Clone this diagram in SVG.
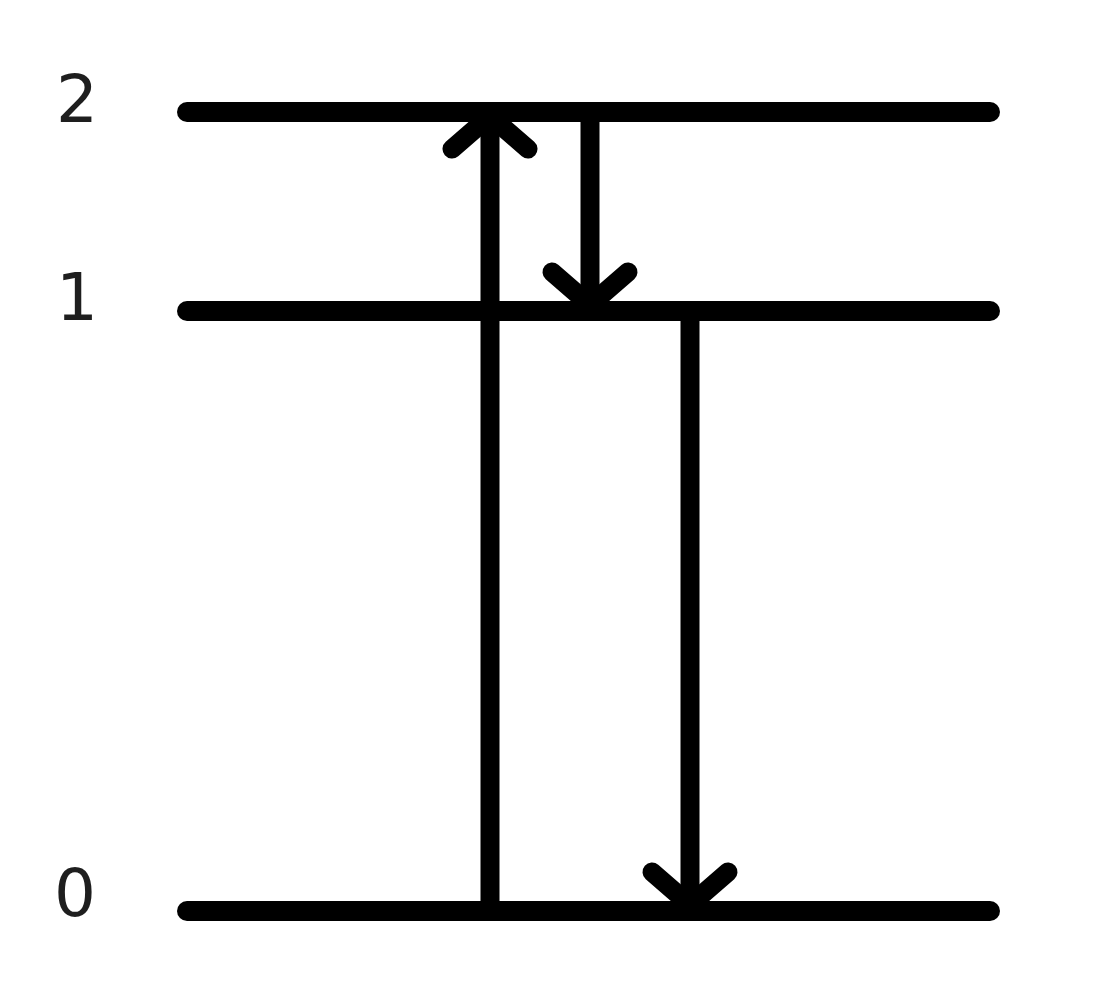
<svg xmlns="http://www.w3.org/2000/svg" width="1103" height="1000" viewBox="0 0 1103 1000">
  <style>
    .level { stroke: #000; stroke-width: 20; stroke-linecap: round; fill: none; }
    .conn { stroke: #000; stroke-width: 19; fill: none; }
    .lbl { font-family: "DejaVu Sans", "Liberation Sans", sans-serif; font-size: 66px; fill: #1e1e1e; text-anchor: middle; }
  </style>
  <defs>
    <marker id="chev" markerUnits="userSpaceOnUse" viewBox="-60 -60 120 120" markerWidth="120" markerHeight="120" refX="0" refY="0" orient="auto" overflow="visible">
      <path d="M -33 -38 L 0 0 L -33 38" fill="none" stroke="#000" stroke-width="19" stroke-linecap="round" stroke-linejoin="round"/>
    </marker>
  </defs>
  <rect width="1103" height="1000" fill="#fff"/>
  <g id="level2">
    <line class="level" x1="187" y1="112" x2="990" y2="112"/>
    <text class="lbl" x="77" y="122">2</text>
  </g>
  <g id="level1">
    <line class="level" x1="187" y1="311" x2="990" y2="311"/>
    <text class="lbl" x="77" y="320">1</text>
  </g>
  <g id="level0">
    <line class="level" x1="187" y1="911" x2="990" y2="911"/>
    <text class="lbl" x="75" y="916">0</text>
  </g>
  <g id="connectors">
    <line class="conn" x1="490" y1="911" x2="490" y2="116" marker-end="url(#chev)"/>
    <line class="conn" x1="590" y1="112" x2="590" y2="305" marker-end="url(#chev)"/>
    <line class="conn" x1="690" y1="311" x2="690" y2="905" marker-end="url(#chev)"/>
  </g>
</svg>
